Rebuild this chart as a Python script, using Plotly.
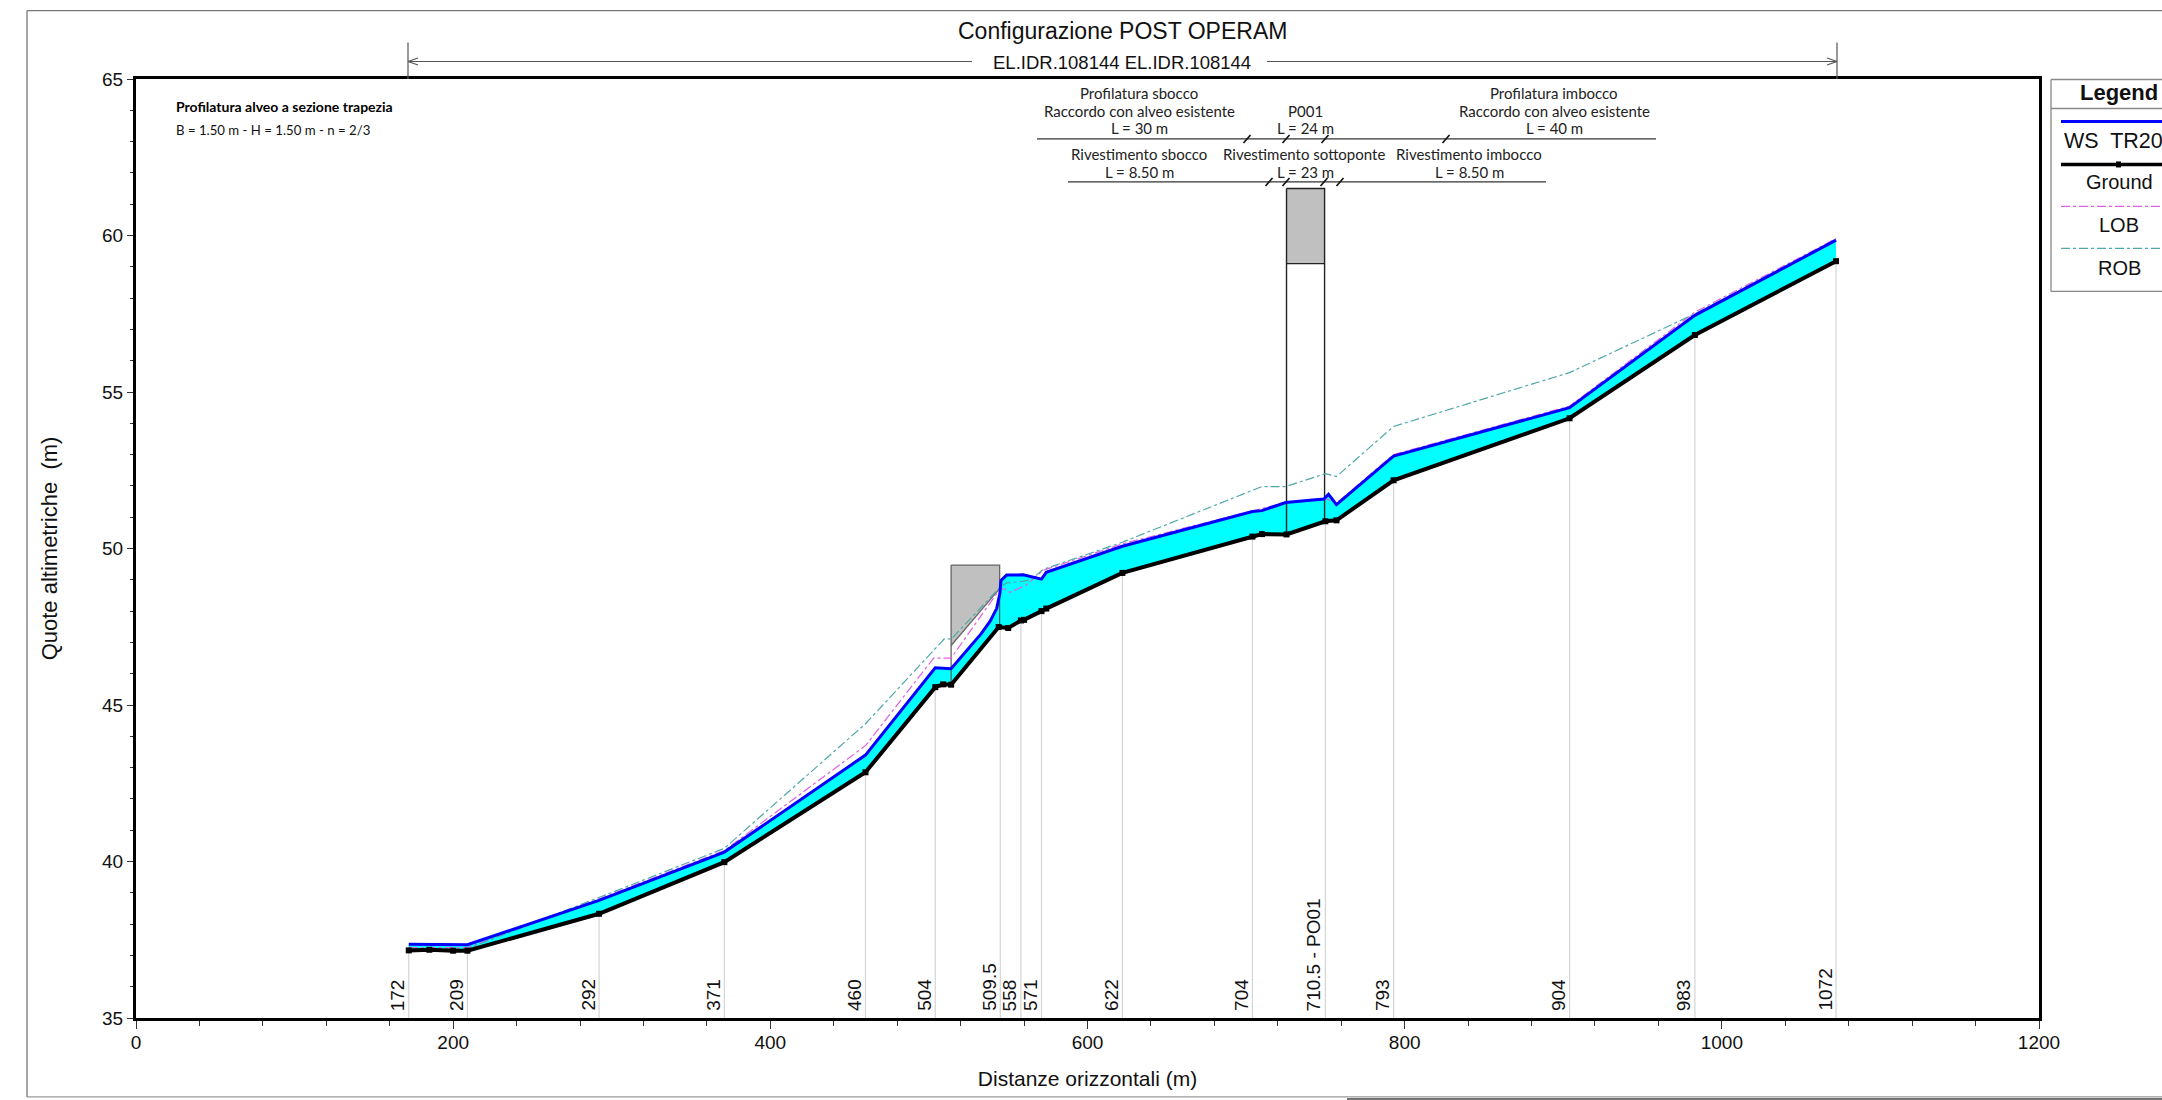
import plotly.graph_objects as go

W, H = 2162, 1100
PL, PR, PT, PB = 136, 2039, 78.5, 1018

# --- data ---
station_x = [172, 209, 292, 371, 460, 504, 545, 558, 571, 622, 704, 750, 793, 904, 983, 1072]
station_labels = ["172", "209", "292", "371", "460", "504", "509.5", "558", "571", "622", "704",
                  "710.5 - PO01", "793", "904", "983", "1072"]
station_ground = [37.16, 37.15, 38.33, 39.98, 42.85, 45.57, 47.49, 47.70, 48.00, 49.22, 50.38,
                  50.87, 52.18, 54.16, 56.82, 59.18]

ground_x = [172, 185, 200, 209, 292, 371, 460, 504, 509, 514, 544, 550, 558, 560, 571, 574, 622,
            704, 710, 725.5, 750, 757, 793, 904, 983, 1072]
ground_y = [37.16, 37.18, 37.15, 37.15, 38.33, 39.98, 42.85, 45.57, 45.66, 45.65, 47.49, 47.46,
            47.70, 47.72, 48.00, 48.08, 49.22, 50.38, 50.46, 50.45, 50.87, 50.90, 52.18, 54.16,
            56.82, 59.18]

ws_x = [172, 209, 292, 371, 460, 504, 514, 533, 538.6, 542.7, 544.7, 545.5, 549, 559.5, 571, 574,
        622, 704, 710, 725, 749, 752, 757, 793, 904, 983, 1072]
ws_y = [37.36, 37.34, 38.76, 40.30, 43.40, 46.19, 46.16, 47.28, 47.68, 48.08, 48.55, 48.98, 49.15,
        49.16, 49.02, 49.24, 50.07, 51.18, 51.21, 51.47, 51.58, 51.73, 51.40, 52.95, 54.50, 57.45,
        59.85]

lob_x = [172, 209, 292, 371, 460, 503, 514, 545, 548, 551, 561, 572, 622, 704, 725, 750, 757, 793,
         904, 983, 1072]
lob_y = [37.25, 37.25, 38.80, 40.35, 43.70, 46.50, 46.50, 48.72, 48.70, 48.60, 48.82, 49.30, 50.15,
         51.22, 51.47, 51.60, 51.45, 53.00, 54.55, 57.55, 59.90]

rob_x = [172, 209, 292, 371, 460, 510, 514, 545, 549, 559, 564, 572, 622, 710, 725, 750, 757, 793,
         904, 983, 1072]
rob_y = [37.22, 37.22, 38.85, 40.42, 44.40, 47.13, 47.10, 48.77, 48.90, 48.95, 49.00, 49.33, 50.20,
         51.98, 51.98, 52.39, 52.30, 53.90, 55.62, 57.50, 59.85]

deck1_x = [514, 544.6, 544.6, 514, 514]
deck1_y = [49.47, 49.47, 48.72, 46.90, 49.47]
pier1_x = [514, 514, None, 544.6, 544.6]
pier1_y = [46.90, 45.65, None, 48.72, 47.49]

deck2_x = [725.5, 749.5, 749.5, 725.5, 725.5]
deck2_y = [61.5, 61.5, 59.1, 59.1, 61.5]
pier2_x = [725.5, 725.5, None, 749.5, 749.5]
pier2_y = [59.1, 50.45, None, 59.1, 50.87]

title_text = "Configurazione POST OPERAM"
reach_text = "EL.IDR.108144 EL.IDR.108144"
note_title = "Profilatura alveo a sezione trapezia"
note_text = "B = 1.50 m - H = 1.50 m - n = 2/3"
cad_labels = [
    ("Profilatura sbocco", 1139, 93), ("Raccordo con alveo esistente", 1139, 111), ("L = 30 m", 1139, 128),
    ("P001", 1305, 111), ("L = 24 m", 1305, 128),
    ("Profilatura imbocco", 1554, 93), ("Raccordo con alveo esistente", 1554, 111), ("L = 40 m", 1554, 128),
    ("Rivestimento sbocco", 1139, 154), ("L = 8.50 m", 1139, 172),
    ("Rivestimento sottoponte", 1304, 154), ("L = 23 m", 1305, 172),
    ("Rivestimento imbocco", 1469, 154), ("L = 8.50 m", 1469, 172),
]
upper_rule = (1037, 1656, 138.5)
lower_rule = (1068, 1546, 181.5)
upper_marks = [1247, 1286, 1325, 1446]
lower_marks = [1269, 1286, 1324, 1340]

FONT = "Liberation Sans"
NARROW = "Lato"
BLUE, CYAN, MAG, TEAL = "#0000ff", "#00ffff", "#e060e0", "#50a8a8"


def px(x):
    return (x - PL) / (PR - PL)


def py(y):
    return (PB - y) / (PB - PT)


shapes, annots = [], []


def seg(x0, y0, x1, y1, color="#555555", width=1.2, dash=None):
    line = dict(color=color, width=width)
    if dash:
        line["dash"] = dash
    shapes.append(dict(type="line", xref="paper", yref="paper", x0=px(x0), y0=py(y0), x1=px(x1), y1=py(y1),
                       line=line, layer="above"))


def txt(s, x, y, size, family=FONT, color="#111111", xanchor="center", bold=False):
    annots.append(dict(text=f"<b>{s}</b>" if bold else s, x=px(x), y=py(y), xref="paper", yref="paper",
                       showarrow=False, xanchor=xanchor, yanchor="middle",
                       font=dict(family=family, size=size, color=color)))


fig = go.Figure()
# water body between the bed and the water surface
fig.add_trace(go.Scatter(x=ground_x, y=ground_y, mode="lines", line=dict(width=0), hoverinfo="skip", showlegend=False))
fig.add_trace(go.Scatter(x=ws_x, y=ws_y, mode="lines", line=dict(width=0), fill="tonexty", fillcolor=CYAN,
                         hoverinfo="skip", showlegend=False))
# station drop lines
drop_x, drop_y = [], []
for sx, sy in zip(station_x, station_ground):
    drop_x += [sx, sx, None]
    drop_y += [35, sy, None]
fig.add_trace(go.Scatter(x=drop_x, y=drop_y, mode="lines", line=dict(color="#d4d4d4", width=1.2), showlegend=False))
# bridges
fig.add_trace(go.Scatter(x=deck1_x, y=deck1_y, mode="lines", fill="toself", fillcolor="#c0c0c0",
                         line=dict(color="#666666", width=1.3), showlegend=False))
fig.add_trace(go.Scatter(x=pier1_x, y=pier1_y, mode="lines", line=dict(color="#555555", width=1.2), showlegend=False))
fig.add_trace(go.Scatter(x=deck2_x, y=deck2_y, mode="lines", fill="toself", fillcolor="#c0c0c0",
                         line=dict(color="#222222", width=1.4), showlegend=False))
fig.add_trace(go.Scatter(x=pier2_x, y=pier2_y, mode="lines", line=dict(color="#222222", width=1.4), showlegend=False))
# profiles
fig.add_trace(go.Scatter(x=lob_x, y=lob_y, name="LOB", mode="lines", line=dict(color=MAG, width=1.2, dash="dashdot"), showlegend=False))
fig.add_trace(go.Scatter(x=rob_x, y=rob_y, name="ROB", mode="lines", line=dict(color=TEAL, width=1.2, dash="dashdot"), showlegend=False))
fig.add_trace(go.Scatter(x=ws_x, y=ws_y, name="WS TR20", mode="lines", line=dict(color=BLUE, width=3), showlegend=False))
fig.add_trace(go.Scatter(x=ground_x, y=ground_y, name="Ground", mode="lines+markers",
                         line=dict(color="black", width=4), marker=dict(symbol="square", size=6, color="black"),
                         showlegend=False))

# station labels
for sx, lab in zip(station_x, station_labels):
    annots.append(dict(text=lab, x=sx, y=35, xref="x", yref="y", showarrow=False, textangle=-90,
                       xanchor="right", yanchor="bottom", xshift=1, yshift=5,
                       font=dict(family=FONT, size=19, color="#111111")))

# frame around the sheet
seg(27, 10, W, 10, "#777777", 1.3)
seg(27, 10, 27, 1097, "#777777", 1.3)
seg(27, 1097, W, 1097, "#999999", 1.3)
seg(1347, 1099, W, 1099, "#444444", 1.5)

# top titles and reach dimension
txt(title_text, 1122, 30, 23)
txt(reach_text, 1122, 62, 18.5)
seg(408, 42, 408, PT)
seg(1837, 42, 1837, PT)
seg(408, 61, 972, 61)
seg(1267, 61, 1837, 61)
for tip, d in ((408, 1), (1837, -1)):
    seg(tip, 61, tip + 10 * d, 57.5)
    seg(tip, 61, tip + 10 * d, 64.5)

# note
txt(note_title, 174, 106, 14, NARROW, "#000000", "left", True)
txt(note_text, 174, 130, 13.2, NARROW, "#111111", "left")

# CAD annotations
for s, x, y in cad_labels:
    txt(s, x, y, 15, NARROW, "#222222")
for (x0, x1, y), marks in ((upper_rule, upper_marks), (lower_rule, lower_marks)):
    seg(x0, y, x1, y, "#333333", 1.3)
    for m in marks:
        seg(m - 3.5, y + 4, m + 3.5, y - 4, "#111111", 1.6)

# legend panel
seg(2051, 79, W, 79, "#888888", 1.3)
seg(2051, 79, 2051, 291, "#888888", 1.3)
seg(2051, 291, W, 291, "#888888", 1.3)
seg(2051, 108, W, 108, "#888888", 1.3)
txt("Legend", 2119, 92, 22, FONT, "#111111", "center", True)
seg(2061, 121, W, 121, BLUE, 3)
txt("WS  TR20", 2062, 141, 21.5, FONT, "#111111", "left")
seg(2061, 164, W, 164, "black", 3.5)
shapes.append(dict(type="rect", xref="paper", yref="paper", x0=px(2116), x1=px(2121), y0=py(167), y1=py(161),
                   fillcolor="black", line=dict(width=0), layer="above"))
txt("Ground", 2119, 182, 20)
seg(2061, 206, W, 206, MAG, 1.2, "dashdot")
txt("LOB", 2119, 225, 20)
seg(2061, 248, W, 248, TEAL, 1.2, "dashdot")
txt("ROB", 2119, 268, 20)

fig.update_layout(
    width=W, height=H, autosize=False,
    margin=dict(l=PL, r=W - PR, t=PT, b=H - PB, pad=0),
    paper_bgcolor="white", plot_bgcolor="white",
    showlegend=False, shapes=shapes, annotations=annots,
    font=dict(family=FONT, color="#111111"),
    xaxis=dict(range=[0, 1200], dtick=200, tick0=0, ticks="outside", ticklen=8, tickwidth=1, tickcolor="#333333",
               minor=dict(dtick=40, ticks="outside", ticklen=5, tickwidth=1, tickcolor="#333333"),
               showgrid=False, zeroline=False, showline=True, linecolor="black", linewidth=3, mirror=True,
               tickfont=dict(size=19, family=FONT), ticklabelstandoff=-3,
               title=dict(text="Distanze orizzontali (m)", font=dict(size=21, family=FONT), standoff=20)),
    yaxis=dict(range=[35, 65], dtick=5, tick0=35, ticks="outside", ticklen=6, tickwidth=1, tickcolor="#333333",
               minor=dict(dtick=1, ticks="outside", ticklen=3, tickwidth=1, tickcolor="#333333"),
               showgrid=False, zeroline=False, showline=True, linecolor="black", linewidth=3, mirror=True,
               tickfont=dict(size=19, family=FONT),
               title=dict(text="Quote altimetriche  (m)", font=dict(size=22, family=FONT), standoff=39)),
)

fig.write_html("out.html", config=dict(displayModeBar=False),
               post_script="document.body.style.margin='0';document.body.style.overflow='hidden';")
